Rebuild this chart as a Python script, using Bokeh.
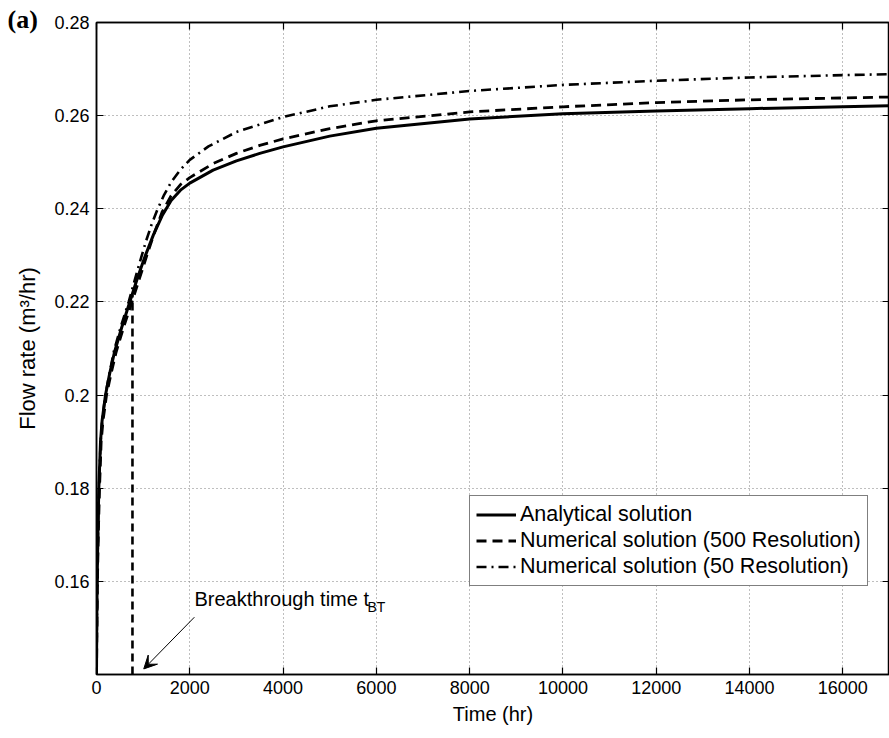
from bokeh.plotting import figure
from bokeh.models import (Range1d, LinearAxis, FixedTicker, CustomJSTickFormatter,
                          Legend, LegendItem, Arrow, VeeHead, ColumnDataSource)
from bokeh.core.properties import value
from bokeh.embed import file_html
from bokeh.resources import INLINE

# ---------------- data ----------------
t_analytical = [0, 5, 14, 30, 50, 86, 120, 193, 280, 385, 540, 713, 880, 1049, 1220,
                1406, 1600, 1800, 2000, 2500, 3000, 3500, 4000, 5000, 6000, 8000,
                10000, 12000, 14000, 16000, 17000]
q_analytical = [0.140, 0.150, 0.160, 0.1705, 0.180, 0.190, 0.1945, 0.200, 0.2045,
                0.2092, 0.2145, 0.2200, 0.2252, 0.2300, 0.2344, 0.2385, 0.2418,
                0.2440, 0.2455, 0.2483, 0.2503, 0.2519, 0.2533, 0.2556, 0.2573,
                0.2593, 0.2604, 0.2610, 0.2615, 0.2619, 0.2621]

t_num500 = [0, 10, 20, 40, 65, 100, 140, 215, 310, 420, 580, 760, 920, 1080, 1240,
            1406, 1600, 1800, 2000, 2500, 3000, 3500, 4000, 5000, 6000, 8000, 10000,
            12000, 14000, 16000, 17000]
q_num500 = [0.140, 0.150, 0.160, 0.1705, 0.180, 0.190, 0.1945, 0.200, 0.2045, 0.2092,
            0.2145, 0.2200, 0.2250, 0.2300, 0.2348, 0.2393, 0.2428, 0.2452, 0.2467,
            0.2497, 0.2519, 0.2536, 0.2550, 0.2572, 0.2589, 0.2608, 0.2619, 0.2628,
            0.2634, 0.2638, 0.2640]

t_num50 = [0, 8, 16, 33, 53, 88, 122, 190, 275, 375, 525, 690, 820, 942, 1060, 1180,
           1300, 1450, 1600, 1800, 2000, 2400, 3000, 4000, 5000, 6000, 8000, 10000,
           12000, 14000, 16000, 17000]
q_num50 = [0.140, 0.150, 0.160, 0.1705, 0.180, 0.190, 0.1945, 0.200, 0.2045, 0.2095,
           0.2148, 0.2200, 0.2247, 0.2290, 0.2330, 0.2366, 0.2397, 0.2430, 0.2457,
           0.2484, 0.2505, 0.2534, 0.2565, 0.2597, 0.2620, 0.2634, 0.2653, 0.2666,
           0.2675, 0.2682, 0.2687, 0.2689]

t_breakthrough = [771, 771]
q_breakthrough = [0.140, 0.2215]

x_ticks = [0, 2000, 4000, 6000, 8000, 10000, 12000, 14000, 16000]
y_ticks = [0.16, 0.18, 0.20, 0.22, 0.24, 0.26, 0.28]

legend_labels = ["Analytical solution",
                 "Numerical solution (500 Resolution)",
                 "Numerical solution (50 Resolution)"]

annot_text = "Breakthrough time t"
annot_sub = "BT"
annot_pos = (2100, 0.1562)
arrow_start = (2098, 0.1523)
arrow_end = (1013, 0.1412)

panel_label = "(a)"

# ---------------- figure ----------------
FONT = "Liberation Sans"

p = figure(width=889, height=736, output_backend="svg", toolbar_location=None,
           x_range=Range1d(0, 17000), y_range=Range1d(0.14, 0.28),
           min_border_left=96, min_border_right=0, min_border_top=22,
           min_border_bottom=62, background_fill_color="white",
           border_fill_color="white")
p.outline_line_color = "black"
p.outline_line_width = 1.5

# panel label "(a)" as a left-aligned title pulled out to the page edge
p.title.text = panel_label
p.title.align = "left"
p.title.offset = -89
p.title.standoff = -22
p.title.vertical_align = "bottom"
p.title.text_font = "Liberation Serif"
p.title.text_font_style = "bold"
p.title.text_font_size = "26px"
p.title.text_color = "black"

# extra axes for the boxed look (ticks only, no labels drawn)
p.add_layout(LinearAxis(), "above")
p.add_layout(LinearAxis(), "right")

xt = FixedTicker(ticks=x_ticks, minor_ticks=[])
yt = FixedTicker(ticks=y_ticks, minor_ticks=[])
for ax in p.xaxis:
    ax.ticker = xt
for ax in p.yaxis:
    ax.ticker = yt
    ax.formatter = CustomJSTickFormatter(code="return (Math.round(tick*100)/100).toString();")

for ax in list(p.xaxis) + list(p.yaxis):
    ax.major_tick_in = 7
    ax.major_tick_out = 0
    ax.minor_tick_line_color = None
    ax.axis_line_width = 1.5
    ax.axis_line_color = "black"
    ax.major_tick_line_width = 1.2
    ax.major_tick_line_color = "black"
    ax.major_label_text_font = FONT
    ax.major_label_text_font_size = "18px"
    ax.major_label_text_color = "black"
    ax.axis_label_text_font = FONT
    ax.axis_label_text_font_style = "normal"
    ax.axis_label_text_color = "black"

for ax in (p.above[0], p.right[0]):
    ax.major_label_text_color = None
    ax.major_label_text_font_size = "1px"
    ax.major_label_standoff = 0

bx = p.below[0]
bx.major_label_standoff = 6
bx.axis_label = "Time (hr)"
bx.axis_label_text_font_size = "20px"
bx.axis_label_standoff = 6

ly = p.left[0]
ly.major_label_standoff = 7
ly.axis_label = "Flow rate (m³/hr)"
ly.axis_label_text_font_size = "22px"
ly.axis_label_standoff = 11

p.xgrid.ticker = xt
p.ygrid.ticker = yt
for g in (p.xgrid, p.ygrid):
    g.grid_line_color = "#7f7f7f"
    g.grid_line_dash = "1 3"
    g.grid_line_width = 1

# ---------------- lines ----------------
r_a = p.line(t_analytical, q_analytical, line_color="black", line_width=3)
r_500 = p.line(t_num500, q_num500, line_color="black", line_width=2.8, line_dash="10 6")
r_50 = p.line(t_num50, q_num50, line_color="black", line_width=2.6, line_dash="10 5 2 5")
p.line(t_breakthrough, q_breakthrough, line_color="black", line_width=2.6, line_dash="8 5")

# ---------------- annotation ----------------
src = ColumnDataSource(dict(x=[annot_pos[0]], y=[annot_pos[1]], t=[annot_text]))
p.text(x="x", y="y", text="t", source=src, text_font=value(FONT),
       text_font_size="20px", text_color="black", text_align="left",
       text_baseline="middle")
src2 = ColumnDataSource(dict(x=[annot_pos[0]], y=[annot_pos[1]], t=[annot_sub]))
p.text(x="x", y="y", text="t", source=src2, text_font=value(FONT),
       text_font_size="14px", text_color="black", text_align="left",
       text_baseline="middle", x_offset=173, y_offset=8)

p.add_layout(Arrow(x_start=arrow_start[0], y_start=arrow_start[1],
                   x_end=arrow_end[0], y_end=arrow_end[1],
                   line_color="black", line_width=1,
                   end=VeeHead(size=13, fill_color="black", line_color="black",
                               line_width=1)))

# ---------------- legend ----------------
legend = Legend(items=[LegendItem(label=legend_labels[0], renderers=[r_a]),
                       LegendItem(label=legend_labels[1], renderers=[r_500]),
                       LegendItem(label=legend_labels[2], renderers=[r_50])],
                location=(373, 88), orientation="vertical")
legend.label_text_font = FONT
legend.label_text_font_size = "21.5px"
legend.label_text_color = "black"
legend.glyph_width = 40
legend.glyph_height = 25
legend.label_height = 25
legend.label_standoff = 4
legend.padding = 6
legend.spacing = 1
legend.margin = 0
legend.border_line_color = "black"
legend.border_line_width = 1.2
legend.background_fill_color = "white"
legend.background_fill_alpha = 1
p.add_layout(legend, "center")

open("out.html", "w").write(file_html(p, INLINE))
